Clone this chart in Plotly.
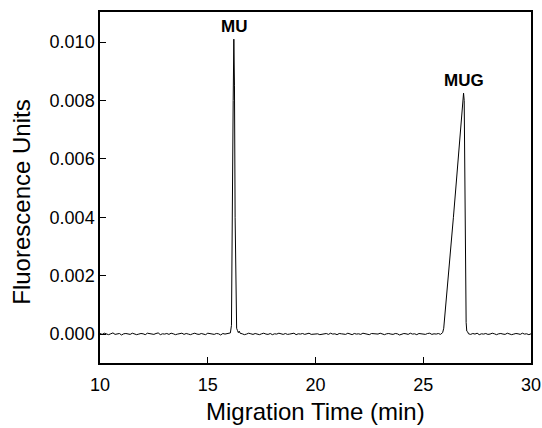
import plotly.graph_objects as go

# Migration time (min)
time_min = [
    10.0, 10.1, 10.2, 10.3, 10.4, 10.5, 10.6, 10.7, 10.8, 10.9,
    11.0, 11.1, 11.2, 11.3, 11.4, 11.5, 11.6, 11.7, 11.8, 11.9,
    12.0, 12.1, 12.2, 12.3, 12.4, 12.5, 12.6, 12.7, 12.8, 12.9,
    13.0, 13.1, 13.2, 13.3, 13.4, 13.5, 13.6, 13.7, 13.8, 13.9,
    14.0, 14.1, 14.2, 14.3, 14.4, 14.5, 14.6, 14.7, 14.8, 14.9,
    15.0, 15.1, 15.2, 15.3, 15.4, 15.5, 15.6, 15.7, 15.8, 15.9,
    16.0, 16.05, 16.10, 16.14, 16.18, 16.21, 16.24, 16.27, 16.30, 16.34,
    16.38, 16.42, 16.46, 16.50,
    16.6, 16.7, 16.8, 16.9,
    17.0, 17.1, 17.2, 17.3, 17.4, 17.5, 17.6, 17.7, 17.8, 17.9,
    18.0, 18.1, 18.2, 18.3, 18.4, 18.5, 18.6, 18.7, 18.8, 18.9,
    19.0, 19.1, 19.2, 19.3, 19.4, 19.5, 19.6, 19.7, 19.8, 19.9,
    20.0, 20.1, 20.2, 20.3, 20.4, 20.5, 20.6, 20.7, 20.8, 20.9,
    21.0, 21.1, 21.2, 21.3, 21.4, 21.5, 21.6, 21.7, 21.8, 21.9,
    22.0, 22.1, 22.2, 22.3, 22.4, 22.5, 22.6, 22.7, 22.8, 22.9,
    23.0, 23.1, 23.2, 23.3, 23.4, 23.5, 23.6, 23.7, 23.8, 23.9,
    24.0, 24.1, 24.2, 24.3, 24.4, 24.5, 24.6, 24.7, 24.8, 24.9,
    25.0, 25.1, 25.2, 25.3, 25.4, 25.5, 25.6, 25.7, 25.8,
    25.85, 25.9, 25.95, 26.0, 26.1, 26.2, 26.3, 26.4, 26.5, 26.6,
    26.7, 26.8, 26.87, 26.9, 26.93, 26.96, 26.99, 27.02, 27.06,
    27.1, 27.2, 27.3, 27.4, 27.5, 27.6, 27.7, 27.8, 27.9,
    28.0, 28.1, 28.2, 28.3, 28.4, 28.5, 28.6, 28.7, 28.8, 28.9,
    29.0, 29.1, 29.2, 29.3, 29.4, 29.5, 29.6, 29.7, 29.8, 29.9,
    30.0,
]

# Fluorescence signal (units)
fluorescence = [
    0.00002, -0.00001, 0.00003, 0.00000, -0.00002, 0.00001, 0.00004, -0.00001, 0.00000, 0.00002,
    -0.00003, 0.00001, 0.00002, 0.00000, -0.00001, 0.00003, 0.00001, -0.00002, 0.00000, 0.00002,
    0.00001, -0.00002, 0.00003, 0.00001, 0.00000, -0.00001, 0.00002, 0.00004, -0.00002, 0.00001,
    0.00000, 0.00002, -0.00001, 0.00003, 0.00001, -0.00002, 0.00000, 0.00001, 0.00003, -0.00001,
    0.00002, 0.00000, -0.00002, 0.00001, 0.00003, 0.00000, -0.00001, 0.00002, 0.00001, -0.00002,
    0.00003, 0.00001, 0.00000, -0.00001, 0.00002, 0.00001, -0.00003, 0.00002, 0.00000, 0.00001,
    0.00001, 0.00004, 0.00030, 0.00300, 0.00800, 0.01010, 0.00850, 0.00400, 0.00100, 0.00020,
    0.00012, 0.00005, 0.00010, 0.00003,
    0.00001, -0.00002, 0.00000, 0.00003,
    0.00001, -0.00001, 0.00002, 0.00000, -0.00002, 0.00001, 0.00003, 0.00000, -0.00001, 0.00002,
    -0.00002, 0.00001, 0.00000, 0.00003, 0.00001, -0.00001, 0.00002, -0.00001, 0.00000, 0.00001,
    0.00003, -0.00002, 0.00001, 0.00000, 0.00002, -0.00001, 0.00001, 0.00003, -0.00001, 0.00000,
    0.00002, 0.00001, -0.00002, 0.00000, 0.00001, 0.00002, -0.00001, 0.00003, 0.00000, 0.00001,
    -0.00002, 0.00002, 0.00001, 0.00000, -0.00001, 0.00003, 0.00001, -0.00002, 0.00002, 0.00000,
    0.00001, -0.00001, 0.00003, 0.00001, 0.00000, -0.00002, 0.00002, 0.00001, -0.00001, 0.00000,
    0.00003, 0.00001, -0.00002, 0.00001, 0.00002, 0.00000, -0.00001, 0.00002, 0.00001, -0.00003,
    0.00000, 0.00002, 0.00001, -0.00001, 0.00003, 0.00000, 0.00001, -0.00002, 0.00002, 0.00001,
    0.00000, -0.00001, 0.00002, 0.00003, -0.00001, 0.00001, 0.00000, 0.00002, -0.00001,
    0.00002, 0.00005, 0.00020, 0.00060, 0.00140, 0.00220, 0.00310, 0.00400, 0.00490, 0.00580,
    0.00670, 0.00760, 0.00825, 0.00800, 0.00550, 0.00200, 0.00040, 0.00010, 0.00008,
    0.00001, -0.00001, 0.00002, 0.00000, 0.00003, -0.00002, 0.00001, 0.00000, 0.00002,
    -0.00001, 0.00000, 0.00003, 0.00001, -0.00002, 0.00001, 0.00002, 0.00000, -0.00001, 0.00003,
    0.00001, -0.00002, 0.00000, 0.00002, 0.00001, -0.00001, 0.00003, 0.00000, 0.00001, -0.00002,
    0.00001,
]

peak_labels = ["MU", "MUG"]
peak_times = [16.21, 26.87]
peak_heights = [0.01010, 0.00825]

x_ticks = [10, 15, 20, 25, 30]
y_ticks = [0.000, 0.002, 0.004, 0.006, 0.008, 0.010]
y_tick_text = ["0.000", "0.002", "0.004", "0.006", "0.008", "0.010"]

x_title = "Migration Time (min)"
y_title = "Fluorescence Units"

FONT = "Liberation Sans, Arial, sans-serif"

fig = go.Figure()
fig.add_trace(go.Scatter(
    x=time_min, y=fluorescence, mode="lines",
    line=dict(color="black", width=1), showlegend=False,
    hoverinfo="skip",
))

for lab, t, h in zip(peak_labels, peak_times, peak_heights):
    fig.add_annotation(
        x=t, y=h, text="<b>%s</b>" % lab, showarrow=False,
        yanchor="bottom", yshift=1, xshift=0,
        font=dict(family=FONT, size=17, color="black"),
    )

# Axis titles as annotations for precise placement
fig.add_annotation(
    xref="paper", yref="paper", x=0.5, y=-0.138, text=x_title,
    showarrow=False, xanchor="center", yanchor="middle",
    font=dict(family=FONT, size=24, color="black"),
)
fig.add_annotation(
    xref="paper", yref="paper", x=-0.183, y=0.457, text=y_title,
    showarrow=False, xanchor="center", yanchor="middle", textangle=-90,
    font=dict(family=FONT, size=24, color="black"),
)

axis_common = dict(
    showline=True, mirror=True, linecolor="black", linewidth=1.5,
    ticks="inside", ticklen=6, tickwidth=1.2, tickcolor="black",
    showgrid=False, zeroline=False, automargin=False,
    tickfont=dict(family=FONT, size=18, color="black"),
)

fig.update_layout(
    width=542, height=428,
    margin=dict(l=100, r=11, t=12, b=65),
    paper_bgcolor="white", plot_bgcolor="white",
    font=dict(family=FONT, color="black"),
    xaxis=dict(
        range=[10, 30], tickvals=x_ticks,
        ticklabelstandoff=5,
        **axis_common,
    ),
    yaxis=dict(
        range=[-0.00099, 0.01103], tickvals=y_ticks, ticktext=y_tick_text,
        ticklabelstandoff=0,
        **axis_common,
    ),
)

fig.write_html(
    "out.html",
    config={"displayModeBar": False},
    post_script="document.body.style.margin='0';document.body.style.overflow='hidden';",
)
